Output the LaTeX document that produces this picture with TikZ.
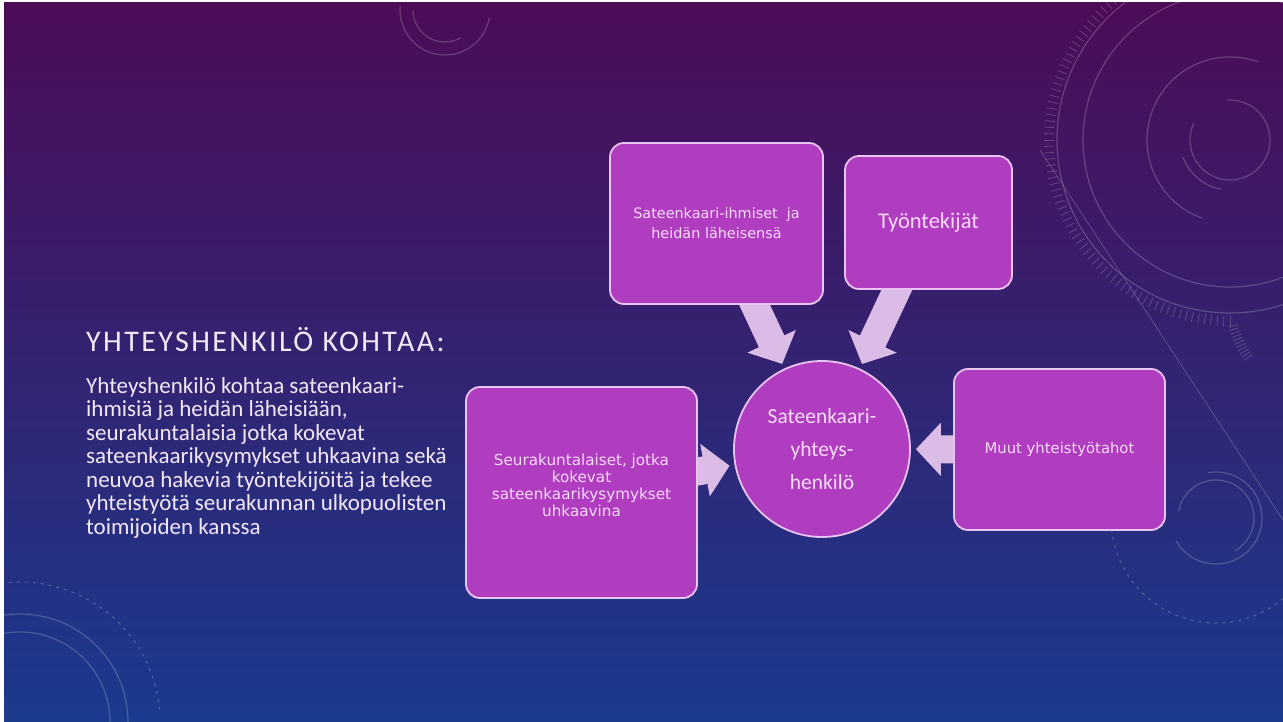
\documentclass[tikz,border=0pt]{standalone}
\usepackage{fontspec}
\setmainfont{Carlito}
\newfontfamily\boxfont{DejaVu Sans}
\usetikzlibrary{arrows.meta}
\pgfdeclarelayer{back}
\pgfdeclarelayer{arrowlayer}
\pgfsetlayers{back,arrowlayer,main}
\definecolor{bgtop}{RGB}{76,12,86}
\definecolor{bgmid}{RGB}{50,26,108}
\definecolor{bgbot}{RGB}{26,58,142}
\definecolor{boxfill}{RGB}{176,60,192}
\definecolor{boxline}{RGB}{234,196,240}
\definecolor{arrowfill}{RGB}{218,188,230}
\definecolor{boxtext}{RGB}{248,218,250}
\definecolor{bodytext}{RGB}{242,232,248}
\begin{document}
\begin{tikzpicture}[x=1pt,y=-1pt,
  box/.style={draw=boxline, line width=1.8pt, fill=boxfill, rounded corners=14pt,
    align=center, text=boxtext, inner sep=0pt},
  hub/.style={circle, draw=boxline, line width=1.8pt, fill=boxfill, align=center,
    text=boxtext, minimum size=176pt, inner sep=0pt},
  blockarrow/.style={draw=arrowfill, line width=28pt,
    -{Triangle[width=52pt,length=25pt]}, shorten <=-16pt, shorten >=5pt},
  deco/.style={draw=white, draw opacity=0.2, line width=1.2pt},
  decodash/.style={deco, dash pattern=on 3pt off 5pt}
]
\useasboundingbox (0,0) rectangle (1283,722);
\begin{pgfonlayer}{back}
\fill[white] (0,0) rectangle (1283,722);
\shade[top color=bgtop, middle color=bgmid, bottom color=bgbot] (4,3) rectangle (1283,721);
\begin{scope}
\clip (4,3) rectangle (1283,721);
% top middle arcs
\draw[deco] ([shift={(445,10)}] -180:32) arc[start angle=-180, end angle=-300, radius=32];
\draw[deco] ([shift={(445,10)}] -175:45) arc[start angle=-175, end angle=-350, radius=45];
% top right group
\draw[deco] ([shift={(1230,140)}] -95:40) arc[start angle=-95, end angle=205, radius=40];
\draw[deco] ([shift={(1230,140)}] -200:50) arc[start angle=-200, end angle=-260, radius=50];
\draw[deco] ([shift={(1230,140)}] -70:83) arc[start angle=-70, end angle=-250, radius=83];
\draw[deco] (1230,140) circle[radius=147];
\draw[deco] (1230,140) circle[radius=173];
\foreach \a in {100,102,...,270} \draw[deco, line width=0.8pt] ([shift={(1230,140)}] -\a:176) -- ([shift={(1230,140)}] -\a:186);
\draw[deco, line width=0.8pt] (1040,150) -- (1283,520);
% bottom right group
\draw[deco] ([shift={(1216,518)}] -100:46) arc[start angle=-100, end angle=150, radius=46];
\draw[deco] ([shift={(1216,518)}] -170:38) arc[start angle=-170, end angle=60, radius=38];
\draw[decodash] ([shift={(1216,518)}] -160:105) arc[start angle=-160, end angle=-340, radius=105];
\foreach \a in {195,197,...,215} \draw[deco, line width=0.8pt] ([shift={(1330,300)}] -\a:95) -- ([shift={(1330,300)}] -\a:105);
% bottom left group
\draw[deco] ([shift={(20,722)}] 0:90) arc[start angle=0, end angle=-180, radius=90];
\draw[deco] ([shift={(20,722)}] 0:108) arc[start angle=0, end angle=-180, radius=108];
\draw[decodash] ([shift={(20,722)}] -5:140) arc[start angle=-5, end angle=-120, radius=140];
\end{scope}
\end{pgfonlayer}

% left text
\node[anchor=base west, inner sep=0pt, text=bodytext, font=\addfontfeatures{LetterSpace=8}\fontsize{30}{36}\selectfont] (head) at (86,351) {YHTEYSHENKILÖ KOHTAA:};
\node[anchor=north west, inner sep=0pt, align=left, text=bodytext, font=\fontsize{23}{23.5}\selectfont] (body) at (86,377)
{Yhteyshenkilö kohtaa sateenkaari-\\
ihmisiä ja heidän läheisiään,\\
seurakuntalaisia jotka kokevat\\
sateenkaarikysymykset uhkaavina sekä\\
neuvoa hakevia työntekijöitä ja tekee\\
yhteistyötä seurakunnan ulkopuolisten\\
toimijoiden kanssa};

% diagram
\node[box, minimum width=213pt, minimum height=161pt, font=\boxfont\fontsize{14.4}{20}\selectfont] (A) at (716.5,223.5)
  {Sateenkaari-ihmiset\ \ ja\\heidän läheisensä};
\node[box, minimum width=167pt, minimum height=133pt, font=\fontsize{22.5}{26}\selectfont] (B) at (928.5,222.5)
  {Työntekijät};
\node[box, minimum width=231pt, minimum height=211pt, font=\boxfont\fontsize{15.2}{17}\selectfont] (C) at (581.5,492.5)
  {Seurakuntalaiset, jotka\\kokevat\\sateenkaarikysymykset\\uhkaavina\\[-3pt]\mbox{}};
\node[box, minimum width=211pt, minimum height=161pt, font=\boxfont\fontsize{14.8}{16}\selectfont] (D) at (1059.5,449.5)
  {Muut yhteistyötahot};
\node[hub, font=\fontsize{21.5}{33}\selectfont] (hub) at (822,449)
  {Sateenkaari-\\yhteys-\\henkilö};

\begin{pgfonlayer}{arrowlayer}
\draw[blockarrow] (A) -- (hub);
\draw[blockarrow] (B) -- (hub);
\draw[blockarrow] (C) -- (hub);
\draw[blockarrow] (D) -- (hub);
\end{pgfonlayer}
\end{tikzpicture}
\end{document}
